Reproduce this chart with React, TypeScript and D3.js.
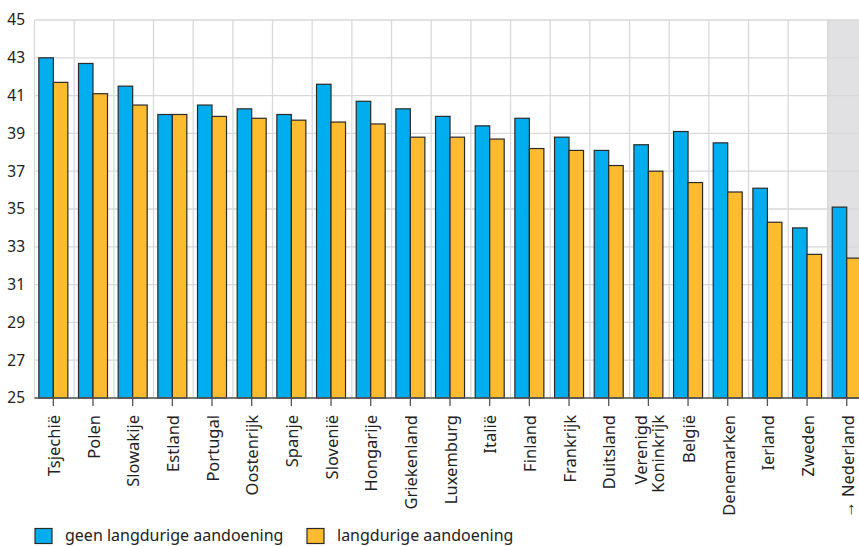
import React from "react";
import * as d3 from "d3";

const categories: string[][] = [
  ["Tsjechië"], ["Polen"], ["Slowakije"], ["Estland"], ["Portugal"], ["Oostenrijk"],
  ["Spanje"], ["Slovenië"], ["Hongarije"], ["Griekenland"], ["Luxemburg"], ["Italië"],
  ["Finland"], ["Frankrijk"], ["Duitsland"], ["Verenigd", "Koninkrijk"], ["België"],
  ["Denemarken"], ["Ierland"], ["Zweden"], ["→ Nederland"],
];
const geen: number[] = [43.0, 42.7, 41.5, 40.0, 40.5, 40.3, 40.0, 41.6, 40.7, 40.3, 39.9, 39.4, 39.8, 38.8, 38.1, 38.4, 39.1, 38.5, 36.1, 34.0, 35.1];
const langdurig: number[] = [41.7, 41.1, 40.5, 40.0, 39.9, 39.8, 39.7, 39.6, 39.5, 38.8, 38.8, 38.7, 38.2, 38.1, 37.3, 37.0, 36.4, 35.9, 34.3, 32.6, 32.4];
const yTicks: number[] = [25, 27, 29, 31, 33, 35, 37, 39, 41, 43, 45];
const legendLabels: string[] = ["geen langdurige aandoening", "langdurige aandoening"];
const highlighted = "→ Nederland";

const W = 859, H = 546;
const left = 34.5, top = 20, bottom = 398;
const BLUE = "#00aeef", ORANGE = "#fdbb30";
const FONT = "'Noto Sans', 'Open Sans', sans-serif";

export default function App() {
  const keys = categories.map((c) => c.join(" "));
  const x = d3.scaleBand<string>().domain(keys).range([left, left + 21 * 39.67]).padding(0);
  const y = d3.scaleLinear().domain([25, 45]).range([bottom, top]);
  const bw = 14.5;
  const right = left + 21 * 39.67;
  const hiX = x(highlighted)!;

  return (
    <svg width={W} height={H} style={{ position: "absolute", left: 0, top: 0, fontFamily: FONT }}>
      <rect x={0} y={0} width={W} height={H} fill="#fff" />
      <rect x={hiX - 1} y={top} width={right - hiX + 1} height={bottom - top} fill="#e1e1e3" />
      {yTicks.map((t) => (
        <line key={"h" + t} x1={left} x2={right} y1={y(t)} y2={y(t)} stroke="#d9d9d9" strokeWidth={1.3} />
      ))}
      {keys.map((k) => (
        <line key={"v" + k} x1={x(k)!} x2={x(k)!} y1={top} y2={bottom} stroke="#d9d9d9" strokeWidth={1.3} />
      ))}
      {keys.map((k, i) => {
        const c = x(k)! + x.bandwidth() / 2 - 1;
        return (
          <g key={"b" + k}>
            <rect x={c - bw} y={y(geen[i])} width={bw} height={bottom - y(geen[i])} fill={BLUE} stroke="#2a2a2a" strokeWidth={1.2} />
            <rect x={c} y={y(langdurig[i])} width={bw} height={bottom - y(langdurig[i])} fill={ORANGE} stroke="#2a2a2a" strokeWidth={1.2} />
          </g>
        );
      })}
      <line x1={left} x2={right} y1={bottom} y2={bottom} stroke="#555" strokeWidth={1.5} />
      {keys.map((k) => {
        const c = x(k)! + x.bandwidth() / 2 - 1;
        return <line key={"t" + k} x1={c} x2={c} y1={bottom} y2={bottom + 8} stroke="#555" strokeWidth={1.3} />;
      })}
      {yTicks.map((t) => (
        <text key={"yl" + t} x={25} y={y(t)} dy="0.35em" textAnchor="end" fontSize={15.5} fill="#222">
          {t}
        </text>
      ))}
      {categories.map((lines, i) => {
        const c = x(keys[i])! + x.bandwidth() / 2 - 1;
        const n = lines.length;
        return (
          <text key={"xl" + i} transform={`translate(${c + 1},415) rotate(-90)`} textAnchor="end" fontSize={16.5} fill="#222">
            {lines.map((ln, j) => (
              <tspan key={j} x={0} dy={j === 0 ? `${0.35 - (n - 1) * 0.5}em` : "1.05em"}>
                {ln}
              </tspan>
            ))}
          </text>
        );
      })}
      {legendLabels.map((lab, i) => {
        const lx = i === 0 ? 35 : 307;
        return (
          <g key={"lg" + i}>
            <rect x={lx} y={528.5} width={17} height={15} fill={i === 0 ? BLUE : ORANGE} stroke="#2a2a2a" strokeWidth={1.2} />
            <text x={lx + 30} y={535.5} dy="0.35em" fontSize={16} fill="#222">
              {lab}
            </text>
          </g>
        );
      })}
    </svg>
  );
}
